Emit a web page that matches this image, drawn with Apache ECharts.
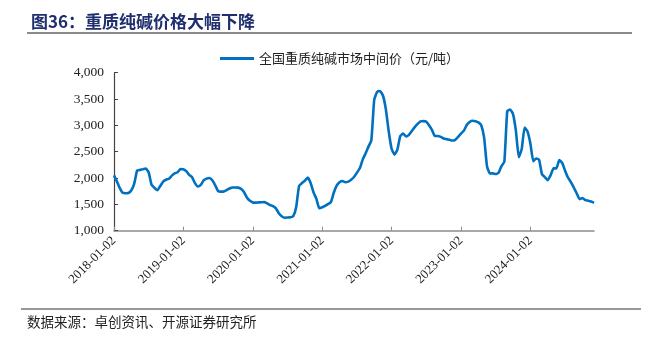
<!DOCTYPE html>
<html>
<head>
<meta charset="utf-8">
<script src="https://cdn.jsdelivr.net/npm/echarts@6/dist/echarts.min.js"></script>
<style>
  html, body { margin: 0; padding: 0; background: #fff; }
  #chart { width: 656px; height: 340px; }
</style>
</head>
<body>
<div id="chart"></div>
<script>
// 全国重质纯碱市场中间价（元/吨），半月一个观测点，2018-01-02 起
const seriesName = '全国重质纯碱市场中间价（元/吨）';
const priceValues = [
  2050, 1935, 1807, 1718, 1712, 1715, 1769, 1895, 2141, 2155, 2167, 2180,
  2105, 1872, 1814, 1767, 1849, 1933, 1968, 1987, 2046, 2089, 2111, 2171,
  2167, 2130, 2060, 2014, 1903, 1839, 1870, 1954, 1989, 2002, 1959, 1863,
  1752, 1741, 1746, 1773, 1800, 1819, 1821, 1818, 1793, 1731, 1624, 1567,
  1537, 1534, 1537, 1540, 1543, 1518, 1486, 1468, 1424, 1332, 1276, 1247,
  1250, 1256, 1278, 1446, 1850, 1904, 1948, 2009, 1907, 1728, 1604, 1425,
  1445, 1473, 1505, 1541, 1720, 1856, 1920, 1943, 1920, 1932, 1969, 2020,
  2100, 2184, 2350, 2466, 2596, 2718, 3487, 3636, 3652, 3567, 3312, 2888,
  2556, 2445, 2541, 2797, 2844, 2789, 2820, 2893, 2966, 3027, 3075, 3081,
  3069, 2996, 2908, 2797, 2797, 2781, 2750, 2739, 2726, 2712, 2726, 2781,
  2845, 2900, 3008, 3065, 3087, 3078, 3058, 3003, 2767, 2222, 2089, 2089,
  2077, 2100, 2226, 2310, 3270, 3300, 3215, 2891, 2395, 2550, 2960, 2886,
  2655, 2321, 2371, 2350, 2072, 2017, 1961, 2055, 2184, 2184, 2342, 2287,
  2140, 2010, 1924, 1821, 1711, 1600, 1620, 1580, 1569, 1555, 1531
];
const startYear = 2018;
const halfMonthDays = ['02', '16'];
const yearTickLabels = ['2018-01-02', '2019-01-02', '2020-01-02', '2021-01-02',
                        '2022-01-02', '2023-01-02', '2024-01-02'];
const yTicks = [1000, 1500, 2000, 2500, 3000, 3500, 4000];

// 半月日期类目
const dates = [];
for (let i = 0; i < priceValues.length; i++) {
  const y = startYear + Math.floor(i / 24);
  const m = Math.floor((i % 24) / 2) + 1;
  dates.push(y + '-' + String(m).padStart(2, '0') + '-' + halfMonthDays[i % 2]);
}
const isYearTick = (idx, val) => yearTickLabels.indexOf(val) >= 0;

const serif = '"Liberation Serif", "Times New Roman", serif';
const cjk = '"Noto Sans CJK SC", sans-serif';

const chart = echarts.init(document.getElementById('chart'), null, { renderer: 'canvas' });
chart.setOption({
  animation: false,
  backgroundColor: '#ffffff',
  title: {
    text: '图36：重质纯碱价格大幅下降',
    left: 26, top: 8,
    textStyle: { fontFamily: cjk, fontSize: 17, fontWeight: 'bold', color: '#1f2f6e' }
  },
  graphic: [
    { type: 'line', shape: { x1: 27, y1: 33, x2: 632, y2: 33 },
      style: { stroke: '#8a8a8a', lineWidth: 2 } },
    { type: 'line', shape: { x1: 21, y1: 309, x2: 641, y2: 309 },
      style: { stroke: '#333333', lineWidth: 1 } },
    { type: 'text', left: 27, top: 315,
      style: { text: '数据来源：卓创资讯、开源证券研究所', font: '13.5px ' + cjk, fill: '#222' } }
  ],
  legend: {
    left: 215, top: 47,
    itemWidth: 34, itemHeight: 3, itemGap: 4,
    icon: 'rect',
    textStyle: { fontFamily: cjk, fontSize: 13, color: '#222' },
    data: [seriesName]
  },
  grid: { left: 114, right: 62, top: 72.7, bottom: 109.3, containLabel: false },
  xAxis: {
    type: 'category',
    data: dates,
    boundaryGap: false,
    axisLine: { lineStyle: { color: '#8c8c8c', width: 1.5 } },
    axisTick: { inside: true, length: 4, interval: isYearTick, lineStyle: { color: '#8c8c8c' } },
    axisLabel: {
      interval: isYearTick,
      rotate: 45,
      margin: 8,
      fontFamily: serif, fontSize: 13, color: '#222'
    },
    splitLine: { show: false }
  },
  yAxis: {
    type: 'value',
    min: yTicks[0], max: yTicks[yTicks.length - 1], interval: 500,
    axisLine: { show: true, lineStyle: { color: '#444', width: 1.2 } },
    axisTick: { show: true, inside: true, length: 4, lineStyle: { color: '#444' } },
    axisLabel: {
      margin: 10,
      fontFamily: serif, fontSize: 13.5, color: '#222',
      formatter: v => v.toLocaleString('en-US')
    },
    splitLine: { show: false }
  },
  series: [{
    name: seriesName,
    type: 'line',
    data: priceValues,
    showSymbol: false,
    symbol: 'none',
    smooth: 0.15,
    lineStyle: { color: '#0070c0', width: 2.6 },
    itemStyle: { color: '#0070c0' }
  }]
});
</script>
</body>
</html>
